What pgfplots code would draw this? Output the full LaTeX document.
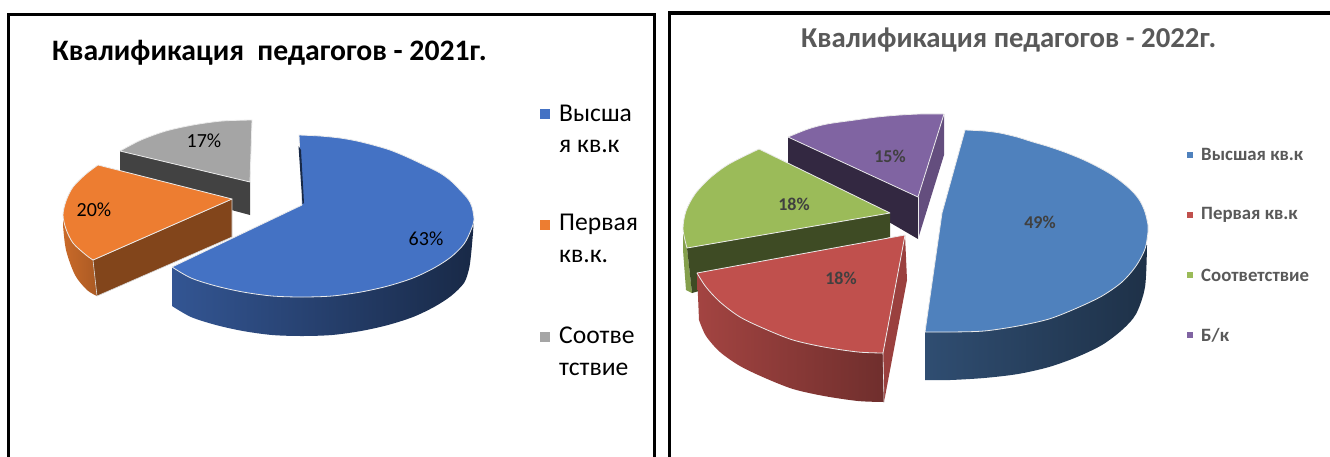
\documentclass[border=0pt]{standalone}
\usepackage{fontspec}
\setmainfont{Carlito}
\usepackage{pgfplots}
\pgfplotsset{compat=1.18}
\definecolor{lblue}{HTML}{4472C4}
\definecolor{lorange}{HTML}{ED7D31}
\definecolor{lgray}{HTML}{A5A5A5}
\definecolor{rblue}{HTML}{4F81BD}
\definecolor{rred}{HTML}{C0504D}
\definecolor{rgreen}{HTML}{9BBB59}
\definecolor{rpurple}{HTML}{8064A2}
\definecolor{ttl}{HTML}{595959}
\definecolor{lbl}{HTML}{404040}
\newcommand{\fs}[1]{\fontsize{#1}{#1}\selectfont}
\tikzset{lab/.style={inner sep=0pt}}
\begin{document}
\begin{tikzpicture}
\begin{axis}[scale only axis,width=1330pt,height=456pt,xmin=0,xmax=1330,ymin=0,ymax=456,y dir=reverse,axis lines=none,clip=true,
  edge/.style={draw=white!92!black,line width=0.8pt,line join=round},
  flat/.style={draw=none}]
% background
\addplot[fill=white,draw=none] coordinates {(0,0)(1330,0)(1330,456)(0,456)} --cycle;
% frames
\addplot[black,line width=3pt] coordinates {(8,460)(8,14.5)(654,14.5)(654,460)};
\addplot[black,line width=3.5pt] coordinates {(669.5,460)(669.5,13)(1334,13)};
% ---------- left chart ----------
% gray
\addplot[fill=black!74,flat] coordinates {(120,151)(250,182)(250,215)(120,180)} --cycle;
\addplot[smooth,fill=lgray,edge] coordinates {(252,120)(222,121)(193,125)(166,131)(141,140)(120,151)} -- (axis cs:250,182) -- cycle;
% orange
\addplot[smooth,shading=axis,left color=lorange!85!black,right color=lorange!72!black,draw=none] coordinates {(97,296)(87,290)(75,275)(66,250)(63,225)} -- (axis cs:63,215) -- (axis cs:93,260) -- cycle;
\addplot[draw=white!85!black,line width=0.6pt,fill=lorange!55!black] coordinates {(93,260)(232,199)(232,237)(97,296)} --cycle;
\addplot[smooth,fill=lorange,edge] coordinates {(98,165)(86,174)(73,187)(66,201)(63,215)(66,229)(73,243)(86,255)(93,260)} -- (axis cs:232,199) -- cycle;
% blue
\addplot[smooth,shading=axis,left color=lblue!75!black,middle color=lblue!50!black,right color=lblue!36!black,draw=none] coordinates {(172,306)(191,317)(216,325)(243,331)(272,335)(302,336)(332,335)(361,331)(388,325)(413,317)(434,307)(451,296)(464,283)(469,269)(471,255)(473,233)} -- (axis cs:474,216) -- (axis cs:172,267) -- cycle;
\addplot[smooth,fill=lblue,edge] coordinates {(299,135)(320,136)(340,138)(357,141)(373,145)(390,150)(407,157)(424,165)(440,173)(451,181)(460,190)(468,199)(472,207)(474,220)(471,230)(464,244)(451,257)(434,268)(413,278)(388,286)(361,292)(332,296)(302,297)(272,296)(243,292)(216,286)(191,278)(172,267)} -- (axis cs:302,205) -- cycle;
\addplot[fill=lblue!36!black,flat] coordinates {(298.5,146)(302.5,204)(304,203)(301,150)} --cycle;
% labels left
\node[lab,text=black,font=\fs{20}] at (axis cs:426,239) {63\%};
\node[lab,text=black,font=\fs{20}] at (axis cs:94,210) {20\%};
\node[lab,text=black,font=\fs{20}] at (axis cs:204,141) {17\%};
% ---------- right chart ----------
% purple
\addplot[fill=rpurple!78!black,flat] coordinates {(944,114)(944,155)(918,239)(918,197)} --cycle;
\addplot[flat,fill=rpurple!40!black] coordinates {(788,137)(918,197)(918,239)(788,163)} --cycle;
\addplot[smooth,fill=rpurple,edge] coordinates {(944,114)(920,114)(900,115)(877,117)(855,120)(827,124)(808,129)(788,137)} -- (axis cs:918,197) -- cycle;
\addplot[edge,line width=0.6pt] coordinates {(918,197)(918,239)};
% green
\addplot[fill=rgreen!85!black,flat] coordinates {(683,229)(687,248)(692,293)(686,290)(683,250)} --cycle;
\addplot[fill=rgreen!40!black,flat] coordinates {(687,248)(890,213)(890,237)(692,293)} --cycle;
\addplot[smooth,fill=rgreen,edge] coordinates {(759,149)(729,164)(710,178)(695,194)(686,211)(683,229)(687,248)} -- (axis cs:890,213) -- cycle;
% red
\addplot[smooth,shading=axis,left color=rred!85!black,right color=rred!58!black,draw=none] coordinates {(699,320)(706,336)(720,352)(740,366)(765,378)(793,389)(824,396)(858,401)(884,402)} -- (axis cs:883,353) -- (axis cs:697,272) -- cycle;
\addplot[fill=rred!80!black,flat] coordinates {(905,235)(907,280)(884,402)(883,353)} --cycle;
\addplot[smooth,fill=rred,edge] coordinates {(697,273)(706,287)(720,302)(740,317)(765,329)(793,340)(824,347)(858,352)(883,353)} -- (axis cs:905,235) -- cycle;
\addplot[edge,line width=0.6pt] coordinates {(883,353)(884,402)};
% blue
\addplot[smooth,shading=axis,left color=rblue!60!black,middle color=rblue!40!black,right color=rblue!38!black,draw=none] coordinates {(925,380)(950,380)(984,378)(1018,374)(1049,367)(1077,357)(1102,345)(1122,330)(1136,314)(1145,287)(1147,245)} -- (axis cs:925,332) -- cycle;
\addplot[smooth,fill=rblue,edge] coordinates {(965,130)(985,131)(1000,133)(1017,137)(1033,142)(1050,147)(1067,153)(1084,160)(1100,168)(1112,175)(1123,183)(1133,192)(1140,201)(1145,212)(1148,225)(1148,232)(1145,249)(1136,266)(1122,282)(1102,296)(1077,308)(1049,319)(1018,326)(984,331)(950,332)(925,332)} -- (axis cs:942,213) -- cycle;
\node[lab,text=lbl,font=\fs{18}\bfseries] at (axis cs:1040,222) {49\%};
\node[lab,text=lbl,font=\fs{18}\bfseries] at (axis cs:841,278) {18\%};
\node[lab,text=lbl,font=\fs{18}\bfseries] at (axis cs:794,204) {18\%};
\node[lab,text=lbl,font=\fs{18}\bfseries] at (axis cs:890,156) {15\%};
% titles
\node[lab,anchor=west,text=black,font=\fs{29.7}\bfseries] at (axis cs:52,53) {Квалификация\ \ педагогов - 2021г.};
\node[lab,anchor=west,text=ttl,font=\fs{28.8}\bfseries] at (axis cs:801,40) {Квалификация педагогов - 2022г.};
% left legend
\addplot[fill=lblue,flat] coordinates {(540,109)(550,109)(550,119)(540,119)} --cycle;
\addplot[fill=lorange,flat] coordinates {(540,220)(550,220)(550,230)(540,230)} --cycle;
\addplot[fill=lgray,flat] coordinates {(540,332)(550,332)(550,342)(540,342)} --cycle;
\node[lab,anchor=west,font=\fs{25.6}] at (axis cs:559,113) {Высша};
\node[lab,anchor=west,font=\fs{25.6}] at (axis cs:559,146) {я кв.к};
\node[lab,anchor=west,font=\fs{25.6}] at (axis cs:559,224) {Первая};
\node[lab,anchor=west,font=\fs{25.6}] at (axis cs:559,256) {кв.к.};
\node[lab,anchor=west,font=\fs{25.6}] at (axis cs:559,335) {Соотве};
\node[lab,anchor=west,font=\fs{25.6}] at (axis cs:559,369) {тствие};
% right legend
\addplot[fill=rblue,flat] coordinates {(1187,152)(1193,152)(1193,158)(1187,158)} --cycle;
\addplot[fill=rred,flat] coordinates {(1187,212)(1193,212)(1193,218)(1187,218)} --cycle;
\addplot[fill=rgreen,flat] coordinates {(1187,272)(1193,272)(1193,278)(1187,278)} --cycle;
\addplot[fill=rpurple,flat] coordinates {(1187,332)(1193,332)(1193,338)(1187,338)} --cycle;
\node[lab,anchor=west,text=ttl,font=\fs{18.8}\bfseries] at (axis cs:1201,154) {Высшая кв.к};
\node[lab,anchor=west,text=ttl,font=\fs{18.8}\bfseries] at (axis cs:1201,215) {Первая кв.к};
\node[lab,anchor=west,text=ttl,font=\fs{18.8}\bfseries] at (axis cs:1201,275) {Соответствие};
\node[lab,anchor=west,text=ttl,font=\fs{18.8}\bfseries] at (axis cs:1201,335) {Б/к};
\end{axis}
\end{tikzpicture}
\end{document}
